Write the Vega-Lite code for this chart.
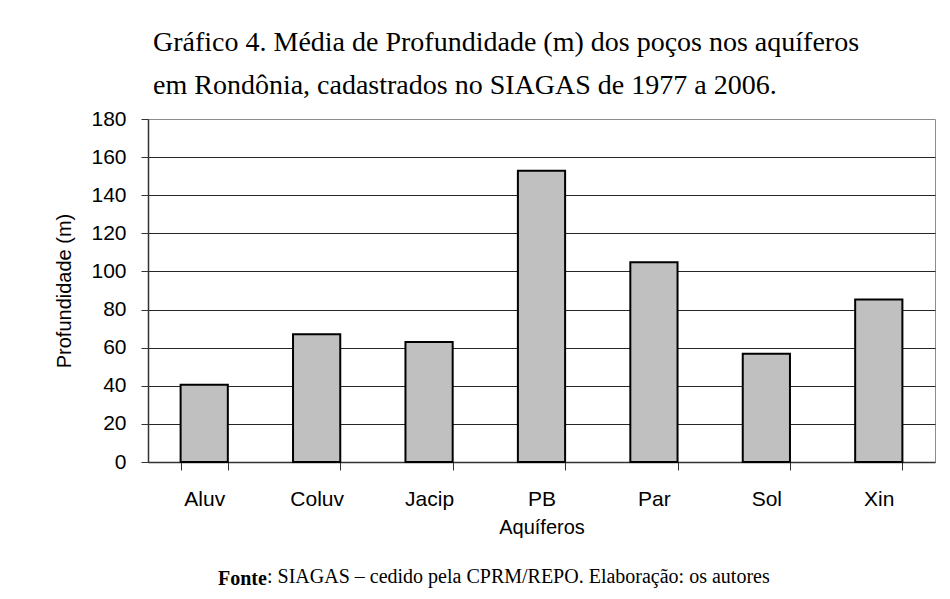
{
  "$schema": "https://vega.github.io/schema/vega-lite/v6.json",
  "background": "white",
  "padding": {"left": 54, "top": 28, "right": 10, "bottom": 5},
  "config": {
    "view": {"stroke": "#8c8c8c", "strokeWidth": 1},
    "concat": {"spacing": 0}
  },
  "title": {
    "text": ": SIAGAS – cedido pela CPRM/REPO. Elaboração: os autores",
    "orient": "bottom", "anchor": "start", "frame": "group",
    "dx": 119, "dy": -26,
    "font": "Liberation Serif", "fontSize": 20, "fontWeight": "normal", "color": "#000"
  },
  "vconcat": [
    {
      "title": {
        "text": "Fonte", "orient": "bottom", "anchor": "start", "frame": "group",
        "dx": 70, "offset": 31,
        "font": "Liberation Serif", "fontSize": 20, "fontWeight": "bold", "color": "#000"
      },
      "vconcat": [
        {
          "title": {
            "text": ["Gráfico 4. Média de Profundidade (m) dos poços nos aquíferos", "em Rondônia, cadastrados no SIAGAS de 1977 a 2006."],
            "anchor": "start", "frame": "group", "dx": 5, "offset": 8,
            "font": "Liberation Serif", "fontSize": 28, "fontWeight": "normal", "lineHeight": 43, "color": "#000"
          },
          "width": 787,
          "height": 343,
          "data": {
            "values": [
              {"aquifero": "Aluv", "profundidade": 40.5},
              {"aquifero": "Coluv", "profundidade": 67.0},
              {"aquifero": "Jacip", "profundidade": 63.0},
              {"aquifero": "PB", "profundidade": 152.8},
              {"aquifero": "Par", "profundidade": 104.8},
              {"aquifero": "Sol", "profundidade": 56.8},
              {"aquifero": "Xin", "profundidade": 85.3}
            ]
          },
          "mark": {"type": "bar", "fill": "#c0c0c0", "stroke": "#000", "strokeWidth": 2},
          "encoding": {
            "x": {
              "field": "aquifero", "type": "nominal", "sort": null,
              "scale": {"paddingInner": 0.58, "paddingOuter": 0.29},
              "axis": {
                "title": "Aquíferos", "labelAngle": 0, "tickBand": "extent",
                "tickSize": 8, "tickColor": "#333", "domainColor": "#333", "domainWidth": 1.5,
                "labelFont": "Liberation Sans", "labelFontSize": 21, "labelColor": "#000", "labelPadding": 18,
                "titleFont": "Liberation Sans", "titleFontSize": 20, "titleFontWeight": "normal", "titleColor": "#000", "titlePadding": 8
              }
            },
            "y": {
              "field": "profundidade", "type": "quantitative",
              "scale": {"domain": [0, 180], "nice": false},
              "axis": {
                "title": "Profundidade (m)", "values": [0, 20, 40, 60, 80, 100, 120, 140, 160, 180],
                "grid": true,
                "gridColor": {"condition": {"test": "datum.value === 180 || datum.value === 0", "value": "transparent"}, "value": "#262626"},
                "tickSize": 7, "tickColor": "#333", "domainColor": "#333", "domainWidth": 1.5,
                "labelFont": "Liberation Sans", "labelFontSize": 21, "labelColor": "#000", "labelPadding": 15,
                "titleFont": "Liberation Sans", "titleFontSize": 20, "titleFontWeight": "normal", "titleColor": "#000", "titlePadding": 16
              }
            }
          }
        }
      ]
    }
  ]
}
